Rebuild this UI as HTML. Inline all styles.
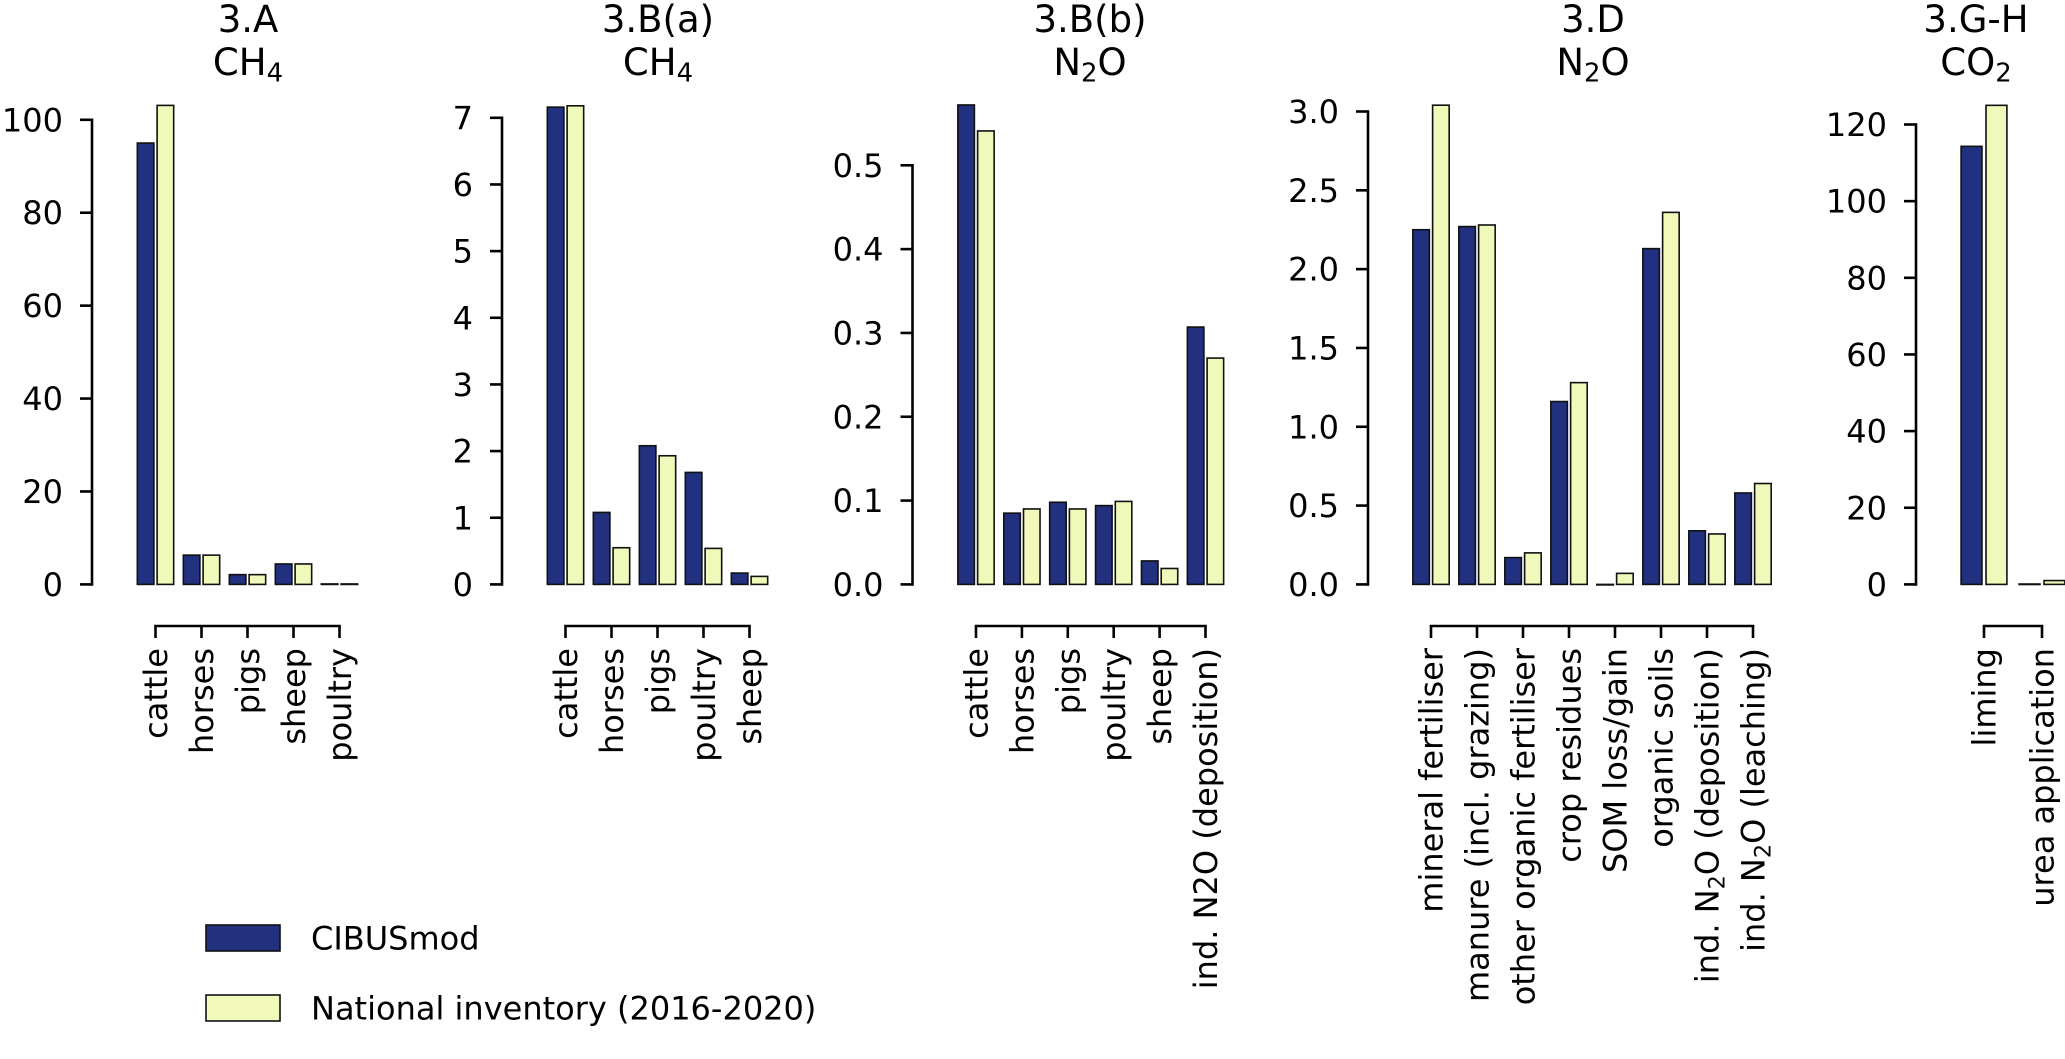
<!DOCTYPE html>
<html><head><meta charset="utf-8"><style>
html,body{margin:0;padding:0;background:#fff;}
svg{display:block;font-family:"DejaVu Sans","Liberation Sans",sans-serif;}
</style></head><body>
<svg id="chart" width="2065" height="1059" viewBox="0 0 2065 1059" xmlns="http://www.w3.org/2000/svg"></svg>
<script>
// ---- data ----
const catsA = ["cattle","horses","pigs","sheep","poultry"];
const modA = [95.0, 6.3, 2.1, 4.4, 0.1];
const invA = [103.1, 6.3, 2.1, 4.4, 0.1];
const ticksA = [0,20,40,60,80,100];

const catsBa = ["cattle","horses","pigs","poultry","sheep"];
const modBa = [7.16, 1.08, 2.08, 1.68, 0.17];
const invBa = [7.18, 0.55, 1.93, 0.54, 0.12];
const ticksBa = [0,1,2,3,4,5,6,7];

const catsBb = ["cattle","horses","pigs","poultry","sheep","ind. N2O (deposition)"];
const modBb = [0.572, 0.085, 0.098, 0.094, 0.028, 0.307];
const invBb = [0.541, 0.090, 0.090, 0.099, 0.019, 0.270];
const ticksBb = [0.0,0.1,0.2,0.3,0.4,0.5];

const catsD = ["mineral fertiliser","manure (incl. grazing)","other organic fertiliser","crop residues","SOM loss/gain","organic soils","ind. N|2|O (deposition)","ind. N|2|O (leaching)"];
const modD = [2.25, 2.27, 0.17, 1.16, 0.0, 2.13, 0.34, 0.58];
const invD = [3.04, 2.28, 0.20, 1.28, 0.07, 2.36, 0.32, 0.64];
const ticksD = [0.0,0.5,1.0,1.5,2.0,2.5,3.0];

const catsGH = ["liming","urea application"];
const modGH = [114.3, 0.1];
const invGH = [125.0, 1.0];
const ticksGH = [0,20,40,60,80,100,120];

const titleA = ["3.A","CH|4"], titleBa=["3.B(a)","CH|4"], titleBb=["3.B(b)","N|2|O"], titleD=["3.D","N|2|O"], titleGH=["3.G-H","CO|2"];

// ---- layout ----
const NS="http://www.w3.org/2000/svg";
const svg=document.getElementById('chart');
const BASE=584.4, BRACKET=626, FS=32, TFS=37;
const BLUE="#21307f", YEL="#f1f9ba";
function el(tag,attrs,parent){const e=document.createElementNS(NS,tag);for(const k in attrs)e.setAttribute(k,attrs[k]);(parent||svg).appendChild(e);return e;}
function richText(t,str,fs){
  const parts=str.split('|');
  parts.forEach((p,i)=>{const ts=document.createElementNS(NS,'tspan');
    if(i%2===1){ts.setAttribute('font-size',fs*0.7);ts.setAttribute('dy',fs*0.18);}
    else if(i>0){ts.setAttribute('dy',-fs*0.18);}
    ts.textContent=p;t.appendChild(ts);});
}
function panel(name,opt,cats,mod,inv,ticks,title,fmt){
  const g=el('g',{});
  
  
  const top=opt.topY, tmax=ticks[ticks.length-1];
  const y=v=>BASE-(v/tmax)*(BASE-top);
  const x=i=>opt.c0+i*opt.s;
  // y axis
  const ax=el('line',{x1:opt.spine,x2:opt.spine,y1:BASE+1.3,y2:y(tmax)-1.3,stroke:'#000','stroke-width':2.6},g);
  
  
  ticks.forEach(t=>{
    const tk=el('line',{x1:opt.spine-12,x2:opt.spine,y1:y(t),y2:y(t),stroke:'#000','stroke-width':2.6},g);
    
    
    const tl=el('text',{x:opt.spine-29,y:y(t)+FS*0.36,'font-size':FS,'text-anchor':'end',fill:'#000'},g);
    tl.textContent=fmt(t);
    
    
  });
  // bars
  const w=opt.s*0.36, off=opt.s*0.035;
  cats.forEach((c,i)=>{
    const cx=x(i);
    const b1=el('rect',{x:cx-off-w,y:y(mod[i]),width:w,height:Math.max(0.5,BASE-y(mod[i])),fill:BLUE,stroke:'#111','stroke-width':1.6},g);
    
    
    const b2=el('rect',{x:cx+off,y:y(inv[i]),width:w,height:Math.max(0.5,BASE-y(inv[i])),fill:YEL,stroke:'#111','stroke-width':1.6},g);
    
    
    const tk=el('line',{x1:cx,x2:cx,y1:BRACKET,y2:BRACKET+12,stroke:'#000','stroke-width':2.6},g);
    
    
    const lb=el('text',{transform:`translate(${cx+FS*0.36},648) rotate(-90)`,'font-size':FS,'text-anchor':'end',fill:'#000'},g);
    richText(lb,c,FS);
    
    
  });
  const br=el('line',{x1:x(0)-1.3,x2:x(cats.length-1)+1.3,y1:BRACKET,y2:BRACKET,stroke:'#000','stroke-width':2.6},g);
  
  
  const t1=el('text',{x:opt.tc,y:32,'font-size':TFS,'text-anchor':'middle',fill:'#000'},g);
  t1.textContent=title[0];
  
  
  const t2=el('text',{x:opt.tc,y:75,'font-size':TFS,'text-anchor':'middle',fill:'#000'},g);
  richText(t2,title[1],TFS);
  
  
}
const f0=v=>String(v), f1=v=>v.toFixed(1);
panel('3a',{spine:92,c0:155.5,s:46,topY:119.8,tc:248},catsA,modA,invA,ticksA,titleA,f0);
panel('3ba',{spine:502,c0:565.5,s:46,topY:117.8,tc:658},catsBa,modBa,invBa,ticksBa,titleBa,f0);
panel('3bb',{spine:912.5,c0:976,s:45.9,topY:165.3,tc:1090},catsBb,modBb,invBb,ticksBb,titleBb,f1);
panel('3d',{spine:1368,c0:1431,s:46,topY:111.5,tc:1593},catsD,modD,invD,ticksD,titleD,f1);
panel('3gh',{spine:1916,c0:1984,s:58,topY:124.5,tc:1976},catsGH,modGH,invGH,ticksGH,titleGH,f0);

// legend
const lg=el('g',{});


[[BLUE,'CIBUSmod',938],[YEL,'National inventory (2016-2020)',1008]].forEach(([col,txt,cy])=>{
  const r=el('rect',{x:206,y:cy-13,width:74,height:26,fill:col,stroke:'#111','stroke-width':1.6},lg);
  
  
  const t=el('text',{x:311,y:cy+FS*0.36,'font-size':FS,fill:'#000'},lg);
  t.textContent=txt;
  
  
});
</script>
</body></html>
